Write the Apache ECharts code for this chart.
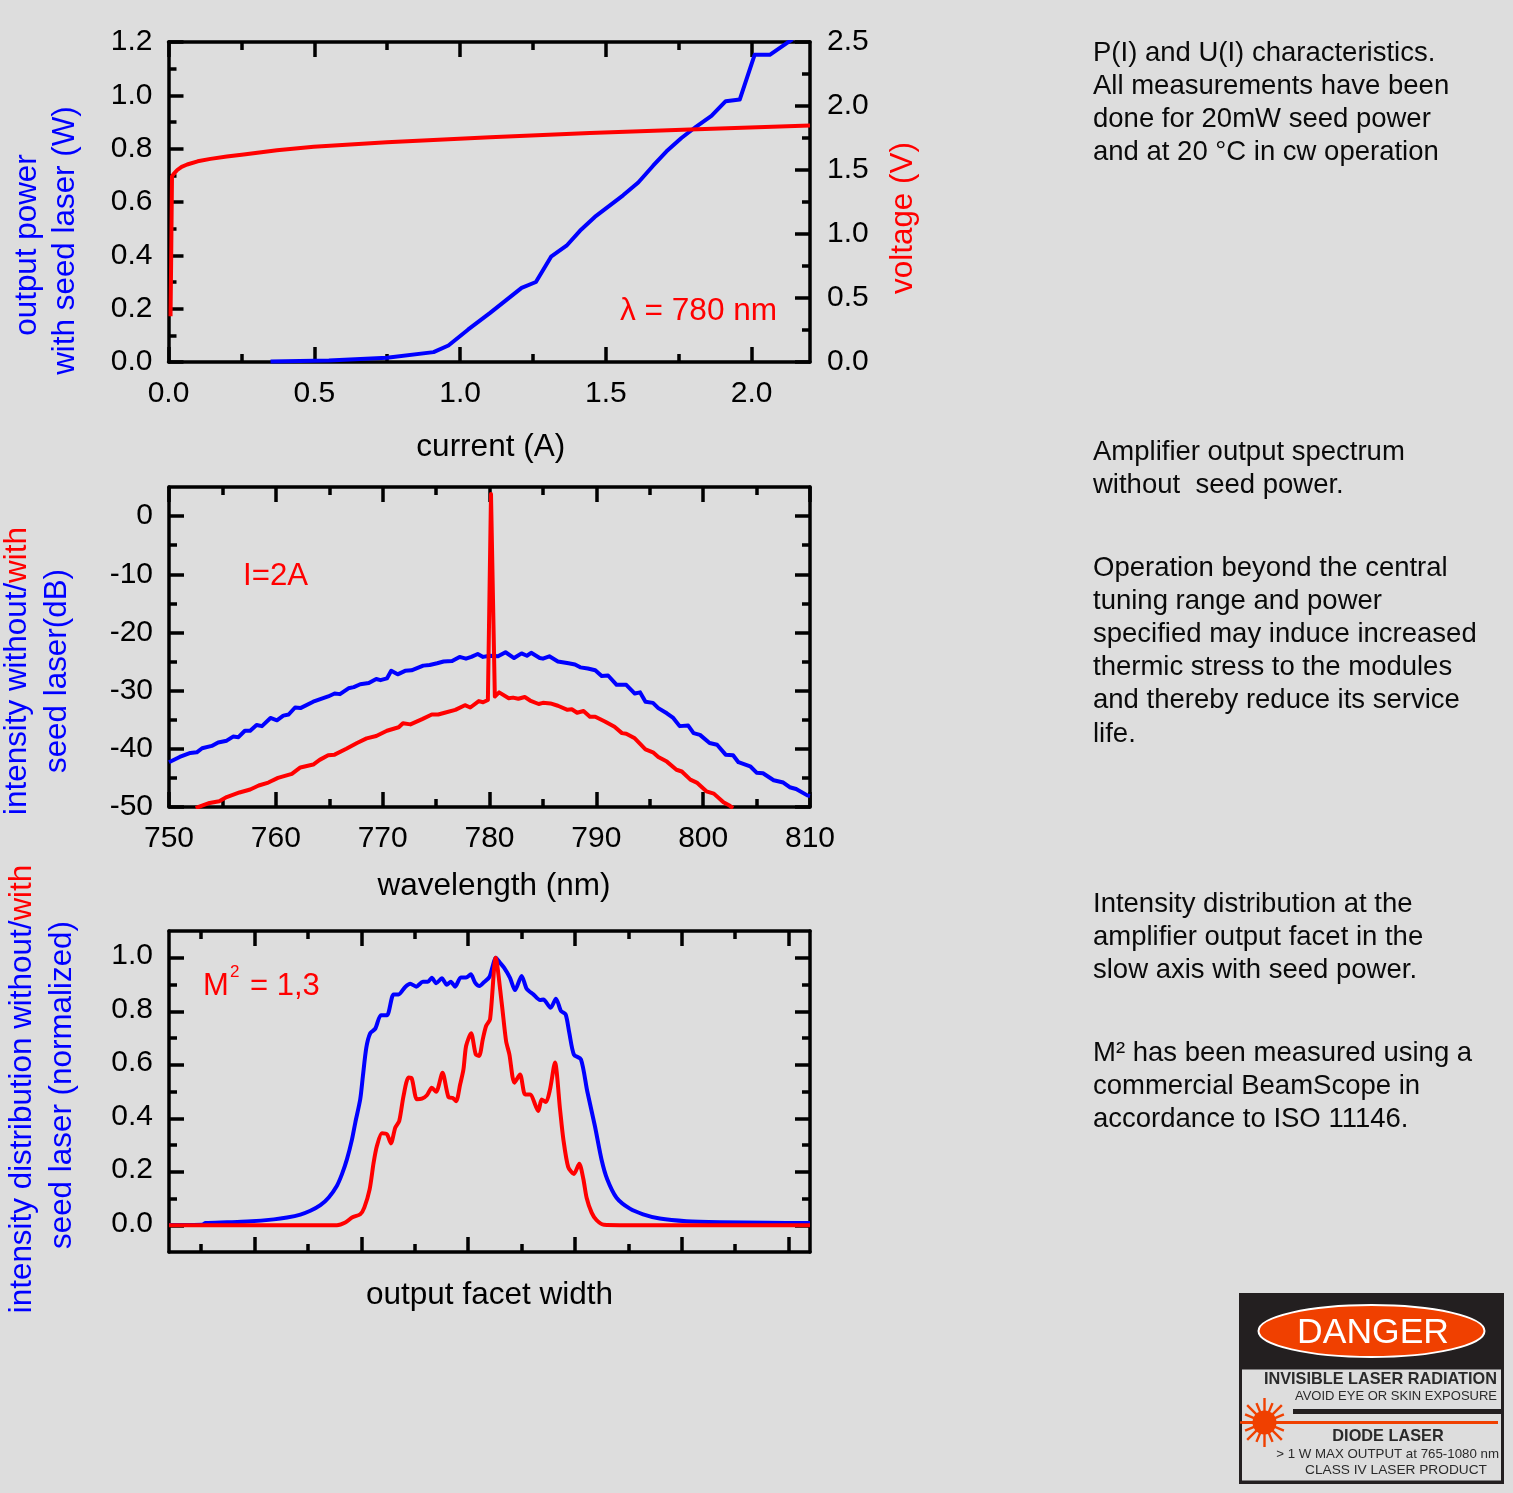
<!DOCTYPE html>
<html>
<head>
<meta charset="utf-8">
<style>html,body{margin:0;padding:0;background:#dddddd}#chart{width:1513px;height:1493px}</style>
<script src="https://cdn.jsdelivr.net/npm/echarts@6/dist/echarts.min.js"></script>
</head>
<body>
<div id="chart"></div>
<script>
// ---------- Panel 1: P(I) / U(I) ----------
const currentTicks = [0, 0.5, 1, 1.5, 2];
const currentMinor = [0.25, 0.75, 1.25, 1.75];
const powerTicks = [0, 0.2, 0.4, 0.6, 0.8, 1, 1.2];
const powerMinor = [0.1, 0.3, 0.5, 0.7, 0.9, 1.1];
const voltTicks = [0, 0.5, 1, 1.5, 2, 2.5];
const voltMinor = [0.25, 0.75, 1.25, 1.75, 2.25];
const powerCurve = [[0.35,0.002],[0.55,0.006],[0.749,0.016],[0.909,0.037],[0.96,0.062],[1.028,0.122],[1.103,0.184],[1.211,0.278],[1.26,0.3],[1.312,0.395],[1.365,0.436],[1.411,0.492],[1.462,0.544],[1.559,0.625],[1.611,0.673],[1.662,0.736],[1.708,0.79],[1.759,0.84],[1.81,0.883],[1.862,0.923],[1.911,0.978],[1.959,0.984],[2.01,1.152],[2.062,1.152],[2.119,1.195],[2.14,1.21]];
const voltageCurve = [[0.007,0.358],[0.009,0.775],[0.012,1.45],[0.018,1.47],[0.03,1.5],[0.045,1.525],[0.064,1.543],[0.1,1.568],[0.144,1.587],[0.2,1.605],[0.258,1.621],[0.372,1.655],[0.498,1.681],[0.749,1.717],[1.103,1.756],[1.445,1.79],[1.788,1.816],[2.2,1.848]];

// ---------- Panel 2: spectrum ----------
const wlTicks = [750, 760, 770, 780, 790, 800, 810];
const wlMinor = [755, 765, 775, 785, 795, 805];
const dbTicks = [-50, -40, -30, -20, -10, 0];
const dbMinor = [-45, -35, -25, -15, -5];
const spectrumNoSeed = [[750,-42.3],[751,-41.4],[752,-40.7],[752.6,-40.6],[753.1,-39.9],[754,-39.5],[754.6,-38.9],[755.4,-38.6],[756,-37.9],[756.5,-38],[757.1,-36.9],[757.6,-36.9],[758.2,-35.9],[758.7,-36.1],[759.5,-34.7],[760.1,-35.1],[760.7,-34.3],[761.2,-34.1],[761.8,-32.9],[762.3,-33],[763.5,-31.9],[764.1,-31.5],[764.9,-31],[765.5,-30.5],[766,-30.6],[766.8,-29.6],[767.3,-29.4],[767.9,-28.9],[768.7,-28.7],[769.4,-28],[769.8,-28.2],[770.4,-27.9],[770.8,-26.6],[771.4,-27.2],[772.1,-26.6],[772.7,-26.5],[773.8,-25.7],[774.4,-25.6],[775.1,-25.3],[775.7,-25],[776.5,-24.9],[777.2,-24.2],[777.8,-24.5],[778.3,-24.2],[778.9,-23.7],[779.4,-24.2],[780,-24],[780.8,-24.1],[781.5,-23.4],[782.3,-24.4],[783,-23.6],[783.5,-24],[783.9,-23.5],[784.7,-24.4],[785,-24.5],[785.6,-24.1],[786.4,-25],[787.4,-25.3],[788,-25.5],[788.5,-26],[789.2,-26.2],[789.9,-26.5],[790.5,-27.5],[791.1,-27.4],[791.9,-29],[792.8,-29],[793.6,-30.5],[794.1,-30.3],[794.6,-31.9],[795.3,-32.1],[795.8,-33],[796.6,-33.9],[797.2,-34.7],[797.8,-36.1],[798.6,-36],[799.1,-37.3],[799.7,-37.6],[800.6,-39],[801.3,-39.3],[802.1,-41],[802.8,-41.1],[803.3,-42.3],[804.4,-43],[805,-44.1],[805.6,-44.2],[806.6,-45.4],[807.5,-45.8],[808.1,-46.6],[808.7,-46.9],[809.75,-48],[810,-48.1]];
const spectrumSeed = [[752.5,-50.2],[752.9,-49.9],[753.8,-49.3],[754.7,-49],[755.4,-48.3],[756.6,-47.5],[757.6,-47],[758.4,-46.3],[759.3,-45.8],[760.2,-45],[761.5,-44.3],[762.3,-43.2],[763.5,-42.7],[764.1,-41.9],[764.9,-41.1],[765.5,-41],[766.6,-40],[767.6,-39],[768.5,-38.2],[769.4,-37.8],[770.4,-36.9],[771.5,-36.3],[771.9,-35.6],[772.6,-35.8],[773.7,-34.9],[774.6,-34.1],[775.2,-34.1],[775.8,-33.8],[776.8,-33.3],[777.7,-32.5],[778.2,-32.9],[779,-31.8],[779.4,-32],[779.85,-31.6],[780.14,3.8],[780.3,3.8],[780.5,-31],[780.9,-30.3],[781.8,-31.3],[782.2,-31.2],[782.7,-31.4],[783.3,-31.1],[783.8,-31.7],[784.6,-32.3],[785,-32.1],[785.7,-32.2],[786.4,-32.6],[787.3,-33.3],[787.7,-33.2],[788.2,-33.8],[788.8,-33.5],[789.4,-34.5],[789.9,-34.5],[790.8,-35.3],[791.7,-36.2],[792.4,-37.3],[792.8,-37.4],[793.6,-38.2],[794.6,-40.1],[795.3,-40.6],[795.8,-41.4],[796.6,-42.2],[797.5,-43.6],[798,-43.9],[798.8,-45.3],[799.4,-45.8],[800.3,-47.3],[801,-47.7],[801.9,-49.2],[802.5,-49.8],[802.8,-50.2]];

// ---------- Panel 3: facet intensity ----------
const facetTicks = [0, 100, 200, 300, 400, 500];
const facetMinor = [-50, 50, 150, 250, 350, 450];
const normTicks = [0, 0.2, 0.4, 0.6, 0.8, 1];
const normMinor = [0.1, 0.3, 0.5, 0.7, 0.9];
const facetNoSeedLine = [[-80,0.001],[-48.9,0.002],[-45.8,0.008],[-25.6,0.011],[-6.9,0.014],[18.1,0.022],[30.5,0.029],[43,0.04],[52.3,0.054],[61.7,0.075],[69.5,0.104],[77.2,0.148],[81.9,0.191],[86.6,0.247],[91.3,0.321],[94.4,0.384],[99,0.471],[101.5,0.558],[104.7,0.664],[108.4,0.718],[113.1,0.735],[118.4,0.785],[124,0.785],[130.2,0.863],[134.9,0.863],[141.1,0.891],[145.8,0.903],[151.4,0.892],[157.6,0.91],[162.3,0.91],[166,0.925],[170.1,0.905],[175.4,0.923],[180,0.899],[183.8,0.91],[187.8,0.892],[193.1,0.926],[198.1,0.926],[202.5,0.938],[206.5,0.907],[210.6,0.894],[215,0.909],[219.9,0.928],[223,0.969],[225.8,1],[229.9,0.981],[233.6,0.963],[239.2,0.925],[243.9,0.879],[250.1,0.932],[254.8,0.884],[261,0.863],[267.3,0.842],[270.4,0.844],[277.2,0.813],[282.2,0.847],[286.9,0.801],[291.3,0.788],[294.7,0.719],[299,0.638],[305.6,0.62],[311.5,0.501],[318.7,0.37],[324.9,0.245],[330.2,0.172],[338.9,0.103],[351.4,0.062],[363.8,0.041],[379.4,0.025],[404.3,0.015],[435.5,0.011],[479.1,0.009],[520,0.008]];
const facetSeedLine = [[-80,0],[77.2,0],[85,0.01],[91.3,0.029],[99,0.041],[102.8,0.066],[107.8,0.134],[111.5,0.233],[114.6,0.296],[119.3,0.344],[124,0.34],[127.7,0.306],[131.8,0.365],[135.5,0.39],[139.5,0.483],[144.2,0.552],[147.3,0.548],[152,0.471],[156.7,0.473],[161.4,0.486],[166,0.514],[170.1,0.499],[176,0.57],[181.6,0.479],[185.6,0.476],[188.8,0.464],[192.5,0.526],[195.6,0.582],[198.1,0.67],[202.8,0.718],[207.1,0.639],[210.3,0.633],[213.7,0.695],[216.8,0.745],[220.5,0.77],[225.8,1],[231.4,0.832],[235.5,0.689],[238.6,0.639],[243.3,0.533],[248.6,0.564],[253.3,0.489],[257.9,0.489],[265.7,0.427],[268.8,0.47],[272.9,0.461],[276.6,0.507],[281.3,0.608],[286,0.434],[289.1,0.322],[293.7,0.217],[299,0.192],[304,0.23],[307.8,0.174],[310.9,0.103],[315.6,0.047],[320.2,0.019],[327.1,0.002],[367,0],[520,0]];

// ---------- Texts ----------
const noteBlocks = [
  ['P(I) and U(I) characteristics.\nAll measurements have been\ndone for 20mW seed power\nand at 20 °C in cw operation', 36.5],
  ['Amplifier output spectrum\nwithout  seed power.', 435.5],
  ['Operation beyond the central\ntuning range and power\nspecified may induce increased\nthermic stress to the modules\nand thereby reduce its service\nlife.', 551.5],
  ['Intensity distribution at the\namplifier output facet in the\nslow axis with seed power.', 887.5],
  ['M² has been measured using a\ncommercial BeamScope in\naccordance to ISO 11146.', 1036.5]
];

const FONT = '"Liberation Sans", Arial, sans-serif';
const BLUE = '#0000ff', RED = '#ff0000', INK = '#000000';
const fix1 = v => v.toFixed(1);

const grids = [
  {left: 168.5, top: 42, width: 641.5, height: 320},
  {left: 169, top: 487, width: 641, height: 320},
  {left: 169, top: 931, width: 641, height: 321}
];
const xAxis = [], yAxis = [];

function addAxes(list, grid, position, min, max, majors, minors, labelOpt, nameOpt) {
  const index = list.length;
  const tick = len => ({lineStyle: {color: INK, width: 3.5}, length: len, inside: true, show: true});
  list.push(Object.assign({
    type: 'value', gridIndex: grid, position, min, max,
    splitLine: {show: false},
    axisLine: {show: true, onZero: false, lineStyle: {color: INK, width: 3.5}},
    axisTick: Object.assign(tick(15), {customValues: majors}),
    axisLabel: labelOpt
      ? Object.assign({show: true, customValues: majors, color: INK, fontSize: 30, fontFamily: FONT, margin: 16}, labelOpt)
      : {show: false}
  }, nameOpt || {}));
  list.push({
    type: 'value', gridIndex: grid, position, min, max,
    splitLine: {show: false},
    axisLine: {show: false, onZero: false},
    axisTick: Object.assign(tick(8), {customValues: minors}),
    axisLabel: {show: false}
  });
  return index;
}
const xName = (name, gap, pad) => ({
  name, nameLocation: 'middle', nameGap: gap,
  nameTextStyle: {color: INK, fontSize: 31.5, fontFamily: FONT, padding: pad || 0}
});

// panel 1
const x1 = addAxes(xAxis, 0, 'bottom', 0, 2.2, currentTicks, currentMinor, {formatter: fix1, margin: 17}, xName('current (A)', 69, [0, 0, 0, 3]));
addAxes(xAxis, 0, 'top', 0, 2.2, currentTicks, currentMinor);
const y1L = addAxes(yAxis, 0, 'left', 0, 1.2, powerTicks, powerMinor, {formatter: fix1});
const y1R = addAxes(yAxis, 0, 'right', 0, 2.5, voltTicks, voltMinor, {formatter: fix1, margin: 17});
// panel 2
const x2 = addAxes(xAxis, 1, 'bottom', 750, 810, wlTicks, wlMinor, {margin: 17}, xName('wavelength (nm)', 63, [0, 0, 0, 9]));
addAxes(xAxis, 1, 'top', 750, 810, wlTicks, wlMinor);
const y2L = addAxes(yAxis, 1, 'left', -50, 5, dbTicks, dbMinor, {});
addAxes(yAxis, 1, 'right', -50, 5, dbTicks, dbMinor);
// panel 3
const x3 = addAxes(xAxis, 2, 'bottom', -80, 520, facetTicks, facetMinor, null, xName('output facet width', 27));
addAxes(xAxis, 2, 'top', -80, 520, facetTicks, facetMinor);
const y3L = addAxes(yAxis, 2, 'left', -0.1, 1.1, normTicks, normMinor, {
  formatter: v => '{t|' + fix1(v) + '}',
  rich: {t: {fontSize: 30, fontFamily: FONT, color: INK, padding: [0, 0, 4, 0]}}
});
addAxes(yAxis, 2, 'right', -0.1, 1.1, normTicks, normMinor);

function line(name, data, color, xi, yi, smooth) {
  return {
    name, type: 'line', data, xAxisIndex: xi, yAxisIndex: yi,
    showSymbol: false, symbol: 'none', smooth: smooth || false, clip: true, silent: true,
    lineStyle: {color, width: 4, join: 'round'}
  };
}
const series = [
  line('output power', powerCurve, BLUE, x1, y1L),
  line('voltage', voltageCurve, RED, x1, y1R),
  line('without seed', spectrumNoSeed, BLUE, x2, y2L),
  line('with seed', spectrumSeed, RED, x2, y2L),
  line('without seed', facetNoSeedLine, BLUE, x3, y3L, 0.25),
  line('with seed', facetSeedLine, RED, x3, y3L, 0.25)
];

// ---------- Free text ----------
const graphic = [];
const TITLE_SIZE = 31.4;
function vTitle(cx, cy, rich, text) {
  graphic.push({
    type: 'text', x: cx, y: cy, rotation: Math.PI / 2, z: 10,
    style: {text, rich, fontFamily: FONT, fontSize: TITLE_SIZE, fill: BLUE, align: 'center', verticalAlign: 'middle'}
  });
}
const richSty = {
  b: {fill: BLUE, fontSize: TITLE_SIZE, fontFamily: FONT},
  r: {fill: RED, fontSize: TITLE_SIZE, fontFamily: FONT}
};
vTitle(27.5, 245, richSty, '{b|output power}');
vTitle(65, 240.5, richSty, '{b|with seed laser (W)}');
graphic.push({type: 'text', x: 903, y: 218, rotation: Math.PI / 2, z: 10,
  style: {text: 'voltage (V)', fontFamily: FONT, fontSize: TITLE_SIZE, fill: RED, align: 'center', verticalAlign: 'middle'}});
vTitle(17.5, 671, richSty, '{b|intensity without/}{r|with}');
vTitle(57, 671, richSty, '{b|seed laser(dB)}');
vTitle(22.5, 1089, richSty, '{b|intensity distribution without/}{r|with}');
vTitle(62, 1085, richSty, '{b|seed laser (normalized)}');

function label(x, y, text, size, fill, opts) {
  graphic.push({type: 'text', x, y, z: 10, style: Object.assign({text, fontFamily: FONT, fontSize: size, fill, align: 'left', verticalAlign: 'middle'}, opts || {})});
}
label(620, 311, 'λ = 780 nm', 31.6, RED);
label(243, 576, 'I=2A', 31.2, RED);
label(203, 986, 'M', 31, RED);
label(230, 972, '2', 17, RED);
label(250, 986, '= 1,3', 31, RED);

noteBlocks.forEach(([text, top]) => {
  graphic.push({type: 'text', x: 1093, y: top, z: 10,
    style: {text, fontFamily: FONT, fontSize: 27.5, lineHeight: 33.2, fill: '#0a0a0a', align: 'left', verticalAlign: 'top'}});
});

// ---------- Danger sign ----------
const SIGN_DARK = '#231f20', SIGN_RED = '#f04000';
graphic.push({type: 'rect', z: 5, shape: {x: 1239, y: 1293, width: 265, height: 191}, style: {fill: SIGN_DARK}});
graphic.push({type: 'rect', z: 6, shape: {x: 1242, y: 1369.5, width: 259, height: 111}, style: {fill: '#dddddd'}});
graphic.push({type: 'ellipse', z: 6, shape: {cx: 1371.5, cy: 1331, rx: 113, ry: 26}, style: {fill: SIGN_RED, stroke: '#ffffff', lineWidth: 2}});
label(1373, 1333, 'DANGER', 35.5, '#ffffff', {align: 'center'});
graphic.push({type: 'rect', z: 7, shape: {x: 1293, y: 1409, width: 208, height: 5}, style: {fill: SIGN_DARK}});
graphic.push({type: 'rect', z: 7, shape: {x: 1242, y: 1421, width: 256, height: 3}, style: {fill: SIGN_RED}});
graphic.push({type: 'circle', z: 7, shape: {cx: 1264.5, cy: 1422.5, r: 12}, style: {fill: SIGN_RED}});
for (let k = 0; k < 16; k++) {
  const a = k * Math.PI / 8, r = k % 2 ? 21 : 24.5;
  graphic.push({type: 'line', z: 7, shape: {
    x1: 1264.5 + 10 * Math.cos(a), y1: 1422.5 + 10 * Math.sin(a),
    x2: 1264.5 + r * Math.cos(a), y2: 1422.5 + r * Math.sin(a)
  }, style: {stroke: SIGN_RED, lineWidth: 2.4}});
}
const signInk = '#2a2a2a';
label(1497, 1380, 'INVISIBLE LASER RADIATION', 16.3, signInk, {align: 'right', fontWeight: 'bold'});
label(1497, 1396.5, 'AVOID EYE OR SKIN EXPOSURE', 13, signInk, {align: 'right'});
label(1388, 1437, 'DIODE LASER', 16.3, signInk, {align: 'center', fontWeight: 'bold'});
label(1499, 1454.5, '> 1 W MAX OUTPUT at 765-1080 nm', 13.3, signInk, {align: 'right'});
label(1396, 1470.5, 'CLASS IV LASER PRODUCT', 13.7, signInk, {align: 'center'});

const chart = echarts.init(document.getElementById('chart'), null, {renderer: 'canvas'});
chart.setOption({
  animation: false,
  backgroundColor: '#dddddd',
  grid: grids, xAxis, yAxis, series, graphic
});
</script>
</body>
</html>
